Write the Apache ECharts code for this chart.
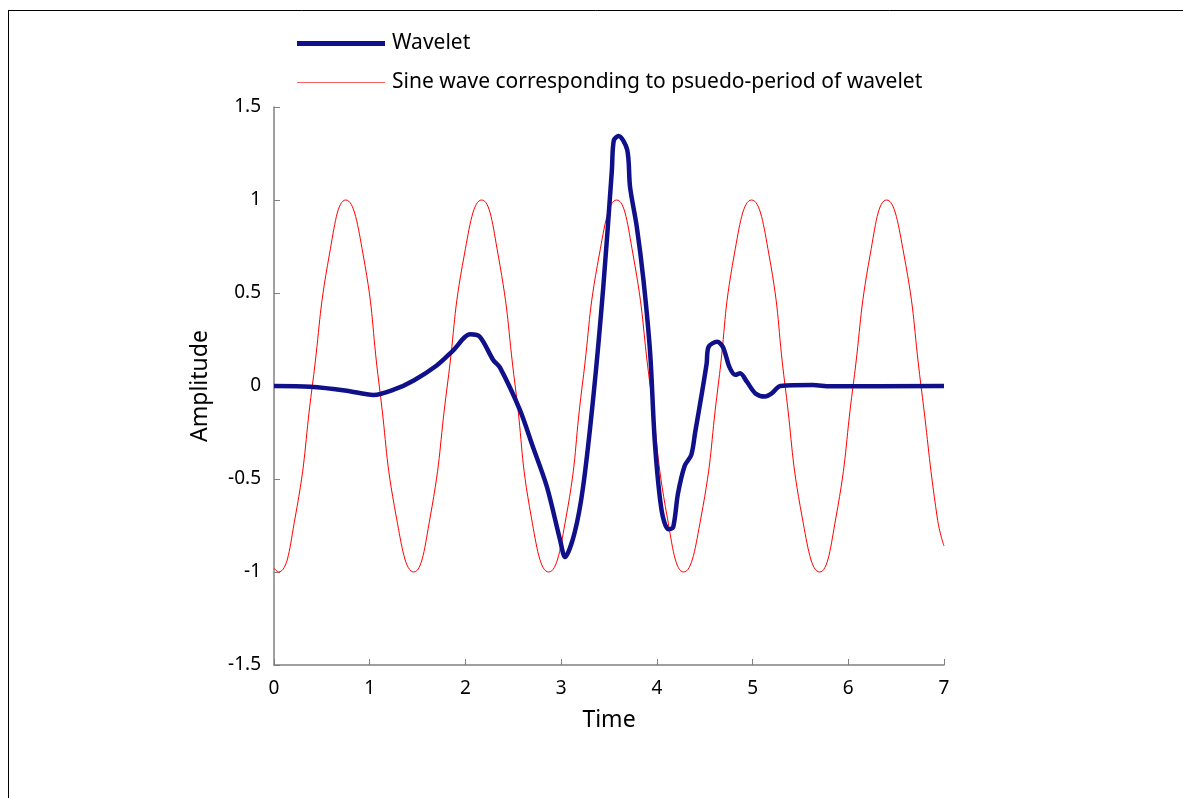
<!DOCTYPE html>
<html>
<head>
<meta charset="utf-8">
<script src="https://cdn.jsdelivr.net/npm/echarts@6/dist/echarts.min.js"></script>
<style>
html, body { margin: 0; padding: 0; background: #fff; }
#chart { width: 1183px; height: 798px; }
</style>
</head>
<body>
<div id="chart"></div>
<script>
// wavelet: [time, amplitude]
var waveletData = [
    [0, 0], [0.38, -0.004], [0.76, -0.025], [1.04, -0.048], [1.25, -0.02],
    [1.46, 0.03], [1.70, 0.11], [1.87, 0.19], [2.05, 0.278], [2.15, 0.265],
    [2.29, 0.14], [2.36, 0.10], [2.57, -0.13], [2.70, -0.32], [2.85, -0.54],
    [2.99, -0.83], [3.04, -0.92], [3.14, -0.79], [3.23, -0.54], [3.34, -0.04],
    [3.44, 0.53], [3.53, 1.16], [3.55, 1.32], [3.60, 1.344], [3.69, 1.27],
    [3.72, 1.07], [3.79, 0.857], [3.86, 0.57], [3.93, 0.177], [3.98, -0.31],
    [4.05, -0.67], [4.12, -0.77], [4.17, -0.76], [4.22, -0.58], [4.29, -0.43],
    [4.36, -0.37], [4.40, -0.25], [4.47, -0.04], [4.52, 0.12], [4.54, 0.21],
    [4.63, 0.238], [4.69, 0.21], [4.76, 0.10], [4.82, 0.06], [4.87, 0.068],
    [4.94, 0.023], [5.03, -0.04], [5.13, -0.057], [5.20, -0.04], [5.29, 0],
    [5.63, 0.005], [5.81, -0.002], [7, 0]
];

// sine wave with the wavelet's pseudo-period
var sineData = [
    [0, -0.98], [0.045, -1], [0.22, -0.71], [0.40, 0], [0.58, 0.71], [0.75, 1],
    [0.93, 0.71], [1.10, 0], [1.28, -0.71], [1.46, -1], [1.63, -0.71], [1.81, 0],
    [1.99, 0.71], [2.17, 1], [2.34, 0.71], [2.52, 0], [2.69, -0.71], [2.87, -1],
    [3.05, -0.71], [3.22, 0], [3.40, 0.71], [3.58, 1], [3.75, 0.71], [3.93, 0],
    [4.11, -0.71], [4.28, -1], [4.46, -0.71], [4.64, 0], [4.81, 0.71], [4.99, 1],
    [5.17, 0.71], [5.34, 0], [5.52, -0.71], [5.70, -1], [5.87, -0.71], [6.05, 0],
    [6.23, 0.71], [6.40, 1], [6.58, 0.71], [6.76, 0], [6.93, -0.71], [7, -0.86]
];

var seriesNames = ['Wavelet', 'Sine wave corresponding to psuedo-period of wavelet'];

var font = 'Noto Sans';
var navy = '#10108a';

var chart = echarts.init(document.getElementById('chart'));
chart.setOption({
    animation: false,
    backgroundColor: '#fff',
    textStyle: { fontFamily: font },
    graphic: [
        { type: 'line', shape: { x1: 8, y1: 10.5, x2: 1183, y2: 10.5 }, style: { stroke: '#000', lineWidth: 1 } },
        { type: 'line', shape: { x1: 8.5, y1: 10, x2: 8.5, y2: 798 }, style: { stroke: '#000', lineWidth: 1 } }
    ],
    legend: {
        orient: 'vertical',
        left: 292,
        top: 28,
        itemWidth: 88,
        itemHeight: 14,
        itemGap: 18,
        symbolKeepAspect: true,
        data: [
            { name: seriesNames[0], icon: 'path://M0,0H88V5H0Z', itemStyle: { color: navy } },
            { name: seriesNames[1], icon: 'path://M0,0H88V1H0Z', itemStyle: { color: '#ff6060' } }
        ],
        textStyle: { fontSize: 21, color: '#000', fontFamily: font, padding: [0, 0, 0, 2] }
    },
    grid: { left: 274, right: 239, top: 107, bottom: 133 },
    xAxis: {
        type: 'value',
        min: 0,
        max: 7,
        interval: 1,
        name: 'Time',
        nameLocation: 'middle',
        nameGap: 44,
        nameTextStyle: { fontSize: 23, color: '#000' },
        axisLine: { onZero: false, lineStyle: { color: '#808080', width: 1.5 } },
        axisTick: { inside: true, length: 6, lineStyle: { color: '#808080' } },
        axisLabel: { fontSize: 19, color: '#000', margin: 14 },
        splitLine: { show: false }
    },
    yAxis: {
        type: 'value',
        min: -1.5,
        max: 1.5,
        interval: 0.5,
        name: 'Amplitude',
        nameLocation: 'middle',
        nameGap: 62,
        nameTextStyle: { fontSize: 23, color: '#000' },
        axisLine: { show: true, onZero: false, lineStyle: { color: '#808080', width: 1.5 } },
        axisTick: { show: true, inside: true, length: 6, lineStyle: { color: '#808080' } },
        axisLabel: { fontSize: 19, color: '#000', margin: 13 },
        splitLine: { show: false }
    },
    series: [
        {
            name: seriesNames[0],
            type: 'line',
            data: waveletData,
            symbol: 'none',
            smooth: 0.3,
            z: 3,
            lineStyle: { color: navy, width: 4.5 },
            itemStyle: { color: navy }
        },
        {
            name: seriesNames[1],
            type: 'line',
            data: sineData,
            symbol: 'none',
            smooth: true,
            z: 2,
            lineStyle: { color: '#ff0000', width: 1 },
            itemStyle: { color: '#ff0000' }
        }
    ]
});
</script>
</body>
</html>
